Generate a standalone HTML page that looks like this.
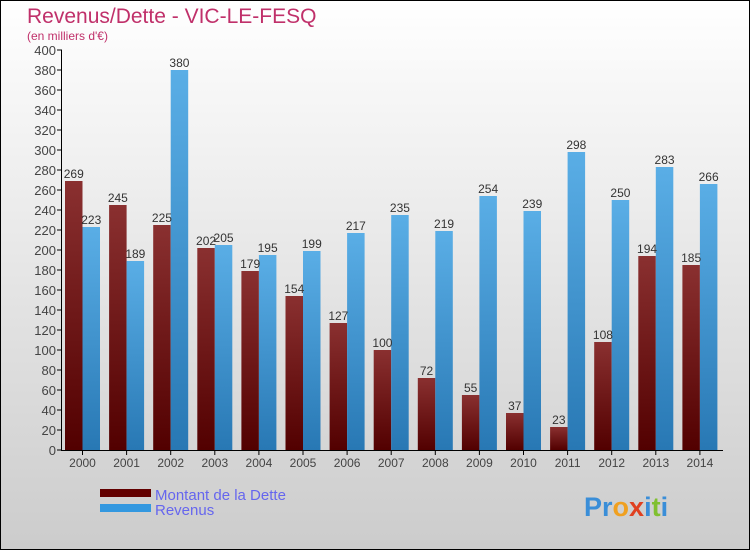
<!DOCTYPE html>
<html><head><meta charset="utf-8"><style>
body{margin:0;padding:0}
#c{position:relative;width:748px;height:548px;border:1px solid #000;background:linear-gradient(#ffffff,#cccccc);overflow:hidden;font-family:"Liberation Sans",sans-serif}
</style></head><body>
<div id="c">
<svg id="s" width="748" height="548" style="position:absolute;left:0;top:0">
<defs>
<linearGradient id="gr" x1="0" y1="0" x2="0" y2="1"><stop offset="0" stop-color="#8a3030"/><stop offset="1" stop-color="#520000"/></linearGradient>
<linearGradient id="gb" x1="0" y1="0" x2="0" y2="1"><stop offset="0" stop-color="#5aaee6"/><stop offset="1" stop-color="#2878b4"/></linearGradient>
</defs>
<text x="26" y="22" font-size="21" fill="#c0306a">Revenus/Dette - VIC-LE-FESQ</text>
<text x="26" y="39" font-size="12" fill="#c0306a">(en milliers d'€)</text>
<g id="g"></g>
<rect x="99" y="488" width="51" height="8" fill="#620000"/>
<rect x="99" y="503" width="51" height="8" fill="#3398e0"/>
<text x="154" y="499" font-size="15" fill="#6666ee">Montant de la Dette</text>
<text x="154" y="514" font-size="15" fill="#6666ee">Revenus</text>
<text x="583" y="515" font-size="27" font-weight="bold"><tspan fill="#3a8ed8">Pr</tspan><tspan fill="#f0a020">o</tspan><tspan fill="#e04020">x</tspan><tspan fill="#3a8ed8">i</tspan><tspan fill="#80c030">t</tspan><tspan fill="#3a8ed8">i</tspan></text>
</svg>
</div>
<script>
const years=["2000","2001","2002","2003","2004","2005","2006","2007","2008","2009","2010","2011","2012","2013","2014"];
const dette=[269,245,225,202,179,154,127,100,72,55,37,23,108,194,185];
const revenus=[223,189,380,205,195,199,217,235,219,254,239,298,250,283,266];
const ticks=[0,20,40,60,80,100,120,140,160,180,200,220,240,260,280,300,320,340,360,380,400];
const NS="http://www.w3.org/2000/svg";
const g=document.getElementById('g');
const y=v=>449-v*1.0;
const x0=i=>64+i*44.1;
function mk(t,a){const e=document.createElementNS(NS,t);for(const k in a)e.setAttribute(k,a[k]);g.appendChild(e);return e;}
ticks.forEach(t=>{
 const l=mk('line',{x1:56,x2:61,y1:y(t),y2:y(t),stroke:'#000'});
 
 
 const tx=mk('text',{x:55,y:y(t)+5,'font-size':13,fill:'#444','text-anchor':'end'});tx.textContent=t;
 
 
});
years.forEach((yr,i)=>{
 const xd=x0(i),w=17.5;
 const r1=mk('rect',{x:xd,y:y(dette[i]),width:w,height:dette[i]*1.0,fill:'url(#gr)'});
 
 
 const r2=mk('rect',{x:xd+w,y:y(revenus[i]),width:w,height:revenus[i]*1.0,fill:'url(#gb)'});
 
 
 const t1=mk('text',{x:xd+w/2,y:y(dette[i])-3,'font-size':12,fill:'#333','text-anchor':'middle'});t1.textContent=dette[i];
 
 
 const t2=mk('text',{x:xd+w*1.5,y:y(revenus[i])-3,'font-size':12,fill:'#333','text-anchor':'middle'});t2.textContent=revenus[i];
 
 
 const tk=mk('line',{x1:xd+w,x2:xd+w,y1:449,y2:454,stroke:'#000'});
 
 
 const xl=mk('text',{x:xd+w,y:466,'font-size':12,fill:'#444','text-anchor':'middle'});xl.textContent=yr;
 
 
});
const ya=mk('line',{x1:60.5,x2:60.5,y1:49,y2:450,stroke:'#000'});


const xa=mk('line',{x1:60,x2:722,y1:449.5,y2:449.5,stroke:'#000'});


</script>
</body></html>
